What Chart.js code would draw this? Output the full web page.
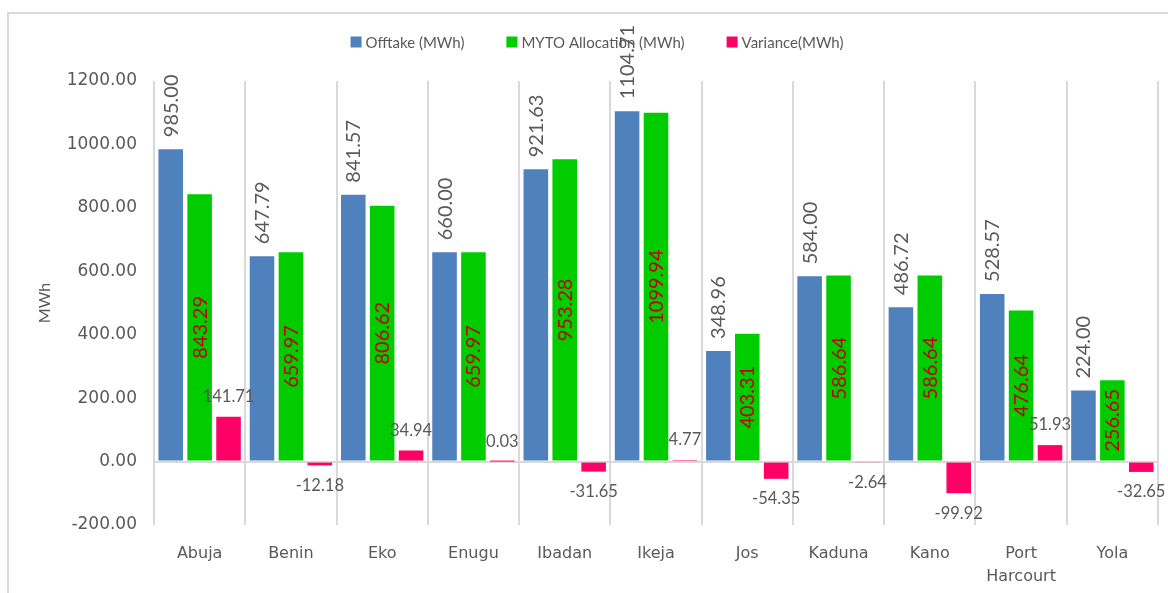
<!DOCTYPE html>
<html>
<head>
<meta charset="utf-8">
<script src="https://cdn.jsdelivr.net/npm/chart.js@4.4.1/dist/chart.umd.min.js"></script>
<style>
  html, body { margin: 0; padding: 0; background: #ffffff; }
  #wrap { position: relative; width: 1168px; height: 593px; overflow: hidden; }
</style>
</head>
<body>
<div id="wrap"><canvas id="chart" width="1168" height="593"></canvas></div>
<script>
// DisCo energy offtake against MYTO allocation, with the resulting variance
const categories = ['Abuja', 'Benin', 'Eko', 'Enugu', 'Ibadan', 'Ikeja', 'Jos', 'Kaduna', 'Kano', 'Port Harcourt', 'Yola'];
const offtake = [985.00, 647.79, 841.57, 660.00, 921.63, 1104.71, 348.96, 584.00, 486.72, 528.57, 224.00];
const mytoAllocation = [843.29, 659.97, 806.62, 659.97, 953.28, 1099.94, 403.31, 586.64, 586.64, 476.64, 256.65];
const variance = [141.71, -12.18, 34.94, 0.03, -31.65, 4.77, -54.35, -2.64, -99.92, 51.93, -32.65];
const seriesNames = ['Offtake (MWh)', 'MYTO Allocation (MWh)', 'Variance(MWh)'];
const yTicks = { min: -200, max: 1200, step: 200 };

const GREY_TEXT = '#595959';
const GRID = '#D9D9D9';

// Frame around the chart object
const framePlugin = {
  id: 'frame',
  beforeDraw(chart) {
    const ctx = chart.ctx;
    ctx.save();
    ctx.strokeStyle = GRID;
    ctx.lineWidth = 2;
    ctx.beginPath();
    ctx.moveTo(8, chart.height);
    ctx.lineTo(8, 13);
    ctx.lineTo(chart.width, 13);
    ctx.stroke();
    ctx.restore();
  }
};

// Legend row above the plot
const legendRowPlugin = {
  id: 'legendRow',
  afterDraw(chart) {
    const ctx = chart.ctx;
    ctx.save();
    ctx.font = '15px Lato';
    ctx.textBaseline = 'middle';
    ctx.textAlign = 'left';
    const box = 11, gapText = 4, gapItem = 42, cy = 42;
    const items = chart.data.datasets.map(ds => ({
      text: ds.label, color: ds.backgroundColor,
      w: box + gapText + ctx.measureText(ds.label).width
    }));
    const total = items.reduce((s, it) => s + it.w, 0) + gapItem * (items.length - 1);
    let x = 597 - total / 2;
    items.forEach(it => {
      ctx.fillStyle = it.color;
      ctx.fillRect(x, cy - box / 2, box, box);
      ctx.fillStyle = GREY_TEXT;
      ctx.fillText(it.text, x + box + gapText, cy + 1);
      x += it.w + gapItem;
    });
    ctx.restore();
  }
};

// Value labels for each bar
const valueLabelPlugin = {
  id: 'valueLabels',
  afterDraw(chart) {
    const ctx = chart.ctx;
    ctx.save();
    chart.data.datasets.forEach((ds, di) => {
      const meta = chart.getDatasetMeta(di);
      meta.data.forEach((bar, i) => {
        const v = ds.data[i];
        const txt = v.toFixed(2);
        if (di === 0) {
          ctx.save();
          ctx.font = '20px Lato';
          ctx.fillStyle = GREY_TEXT;
          ctx.translate(bar.x, bar.y - 12);
          ctx.rotate(-Math.PI / 2);
          ctx.textAlign = 'left';
          ctx.textBaseline = 'alphabetic';
          ctx.fillText(txt, 0, 7);
          ctx.restore();
        } else if (di === 1) {
          ctx.save();
          ctx.font = '20px Lato';
          ctx.fillStyle = '#C00000';
          ctx.translate(bar.x, (bar.y + bar.base) / 2);
          ctx.rotate(-Math.PI / 2);
          ctx.textAlign = 'center';
          ctx.textBaseline = 'alphabetic';
          ctx.fillText(txt, 0, 7);
          ctx.restore();
        } else {
          ctx.font = '16.5px Lato';
          ctx.fillStyle = GREY_TEXT;
          ctx.textAlign = 'center';
          ctx.textBaseline = 'middle';
          const y = v >= 0 ? bar.y - 20 : bar.y + 20;
          ctx.fillText(txt, bar.x, y);
        }
      });
    });
    ctx.restore();
  }
};

new Chart(document.getElementById('chart'), {
  type: 'bar',
  data: {
    labels: categories,
    datasets: [
      { label: seriesNames[0], data: offtake, backgroundColor: '#4F81BD' },
      { label: seriesNames[1], data: mytoAllocation, backgroundColor: '#00CC00' },
      { label: seriesNames[2], data: variance, backgroundColor: '#FF0066' }
    ]
  },
  options: {
    responsive: false,
    devicePixelRatio: 1,
    animation: false,
    layout: { padding: { top: 81, right: 10, bottom: 0, left: 0 } },
    datasets: { bar: { categoryPercentage: 0.95, barPercentage: 0.85, borderWidth: 0 } },
    plugins: {
      legend: { display: false },
      title: { display: false },
      tooltip: { enabled: false }
    },
    scales: {
      x: {
        grid: { color: GRID, lineWidth: 2, drawTicks: false, offset: true },
        border: { display: false },
        ticks: {
          autoSkip: false,
          maxRotation: 0,
          padding: 17,
          color: GREY_TEXT,
          font: { family: 'DejaVu Sans', size: 16, lineHeight: 1.45 },
          callback(value) {
            const l = this.getLabelForValue(value);
            return l.includes(' ') ? l.split(' ') : l;
          }
        },
        afterFit(scale) { scale.height = 68; }
      },
      y: {
        min: yTicks.min,
        max: yTicks.max,
        z: 1,
        grid: {
          drawTicks: false,
          lineWidth: 2,
          color: c => (c.tick && c.tick.value === 0 ? GRID : 'rgba(0,0,0,0)')
        },
        border: { display: false },
        ticks: {
          stepSize: yTicks.step,
          padding: 17,
          color: GREY_TEXT,
          font: { family: 'DejaVu Sans', size: 17 },
          callback: v => v.toFixed(2)
        },
        title: {
          display: true,
          text: 'MWh',
          color: GREY_TEXT,
          font: { family: 'Lato', size: 16 },
          padding: { top: 35, bottom: 0 }
        },
        afterFit(scale) { scale.width = 154; }
      }
    }
  },
  plugins: [framePlugin, legendRowPlugin, valueLabelPlugin]
});
</script>
</body>
</html>
